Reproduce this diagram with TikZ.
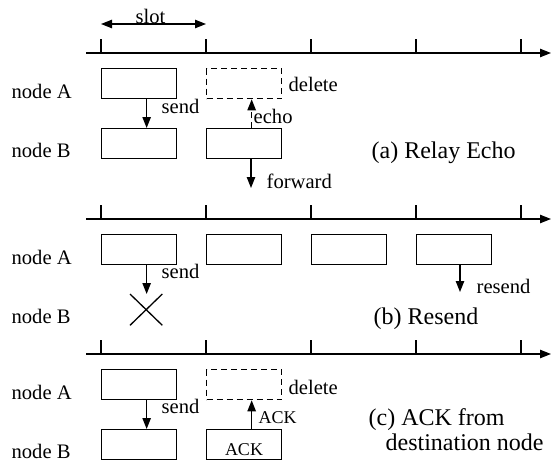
\documentclass[tikz,border=0pt]{standalone}
\usepackage{fontspec}
\setmainfont{Liberation Serif}
\usetikzlibrary{arrows.meta,shapes.misc,calc}

\begin{document}
\begin{tikzpicture}[x=0.5pt,y=-0.5pt,
  font=\fontsize{10.3}{12}\selectfont, >={Triangle[length=5.5pt,width=4.2pt]},
  line width=0.65pt,
  slotbox/.style={draw,minimum width=37.5pt,minimum height=15pt,inner sep=0pt,anchor=north west},
  gone/.style={slotbox,dash pattern=on 3pt off 2pt},
  lost/.style={draw,cross out,minimum width=15.5pt,minimum height=15pt,inner sep=0pt,anchor=north west},
  lbl/.style={anchor=base west,inner sep=0pt},
  small/.style={lbl,font=\fontsize{9}{10}\selectfont},
  caption/.style={lbl,align=left,font=\fontsize{12}{12.5}\selectfont},
  sig/.style={->},
  axis/.style={->},
]
\useasboundingbox (0,0) rectangle (560,461);

% three time axes with slot ticks
\foreach \p/\y in {a/53,b/219,c/354}{
  \coordinate (o\p) at (86,\y);
  \coordinate (e\p) at (551,\y);
  \draw[axis] (o\p) -- (e\p);
  \foreach \x in {101,206,311,416,521}
    \draw (\x,\y) -- ++(0,-14);
  \node[lbl] (lA\p) at (11,\y+45) {node A};
  \node[lbl] (lB\p) at (11,\y+104) {node B};
}
\coordinate (s1) at (101,24);
\coordinate (s2) at (206,24);
\draw[sig,<->] (s1) -- node[midway,anchor=base,inner sep=0pt,xshift=-1.5pt,yshift=0.5pt] (slot) {slot} (s2);

% (a) relay echo
\node[slotbox] (aA1) at (101,68) {};
\node[gone]    (aA2) at (206,68) {};
\node[slotbox] (aB1) at (101,128) {};
\node[slotbox] (aB2) at (206,128) {};
\coordinate (fwd) at (251,188);
\draw[sig] ([xshift=3.75pt]aA1.south) -- ([xshift=3.75pt]aB1.north);
\draw[sig,dash pattern=on 3pt off 2pt] ([xshift=3.75pt]aB2.north) -- ([xshift=3.75pt]aA2.south);
\draw[sig] (aB2.south -| fwd) -- (fwd);
\node[lbl] (sendA) at (161,113) {send};
\node[lbl] (echo)  at (253,123) {echo};
\node[lbl] (delA)  at (288,91)  {delete};
\node[lbl] (fwdl)  at (266,188) {forward};
\node[caption] (capA) at (371,158) {(a) Relay Echo};

% (b) resend
\node[slotbox] (bA1) at (101,234) {};
\node[slotbox] (bA2) at (206,234) {};
\node[slotbox] (bA3) at (311,234) {};
\node[slotbox] (bA4) at (416,234) {};
\node[lost]    (bX)  at (130,294) {};
\coordinate (rsd) at (460,292);
\draw[sig] ([xshift=3.75pt]bA1.south) -- ([xshift=3.75pt]bA1.south |- bX.north);
\draw[sig] (bA4.south -| rsd) -- (rsd);
\node[lbl] (sendB) at (161,278) {send};
\node[lbl] (rsdl)  at (476,293) {resend};
\node[caption] (capB) at (373,324) {(b) Resend};

% (c) ACK from destination node
\node[slotbox] (cA1) at (101,369) {};
\node[gone]    (cA2) at (206,369) {};
\node[slotbox] (cB1) at (101,429) {};
\node[slotbox] (cB2) at (206,429) {};
\node[small,anchor=base] (ackB) at (244,455) {ACK};
\draw[sig] ([xshift=3.75pt]cA1.south) -- ([xshift=3.75pt]cB1.north);
\draw[sig] ([xshift=3.75pt]cB2.north) -- ([xshift=3.75pt]cA2.south);
\node[lbl]   (sendC) at (161,413) {send};
\node[small] (ackl)  at (258,423) {ACK};
\node[lbl]   (delC)  at (288,394) {delete};
\node[caption] (capC) at (368,450) {(c) ACK from\\\hspace*{8.5pt}destination node};
\end{tikzpicture}
\end{document}
